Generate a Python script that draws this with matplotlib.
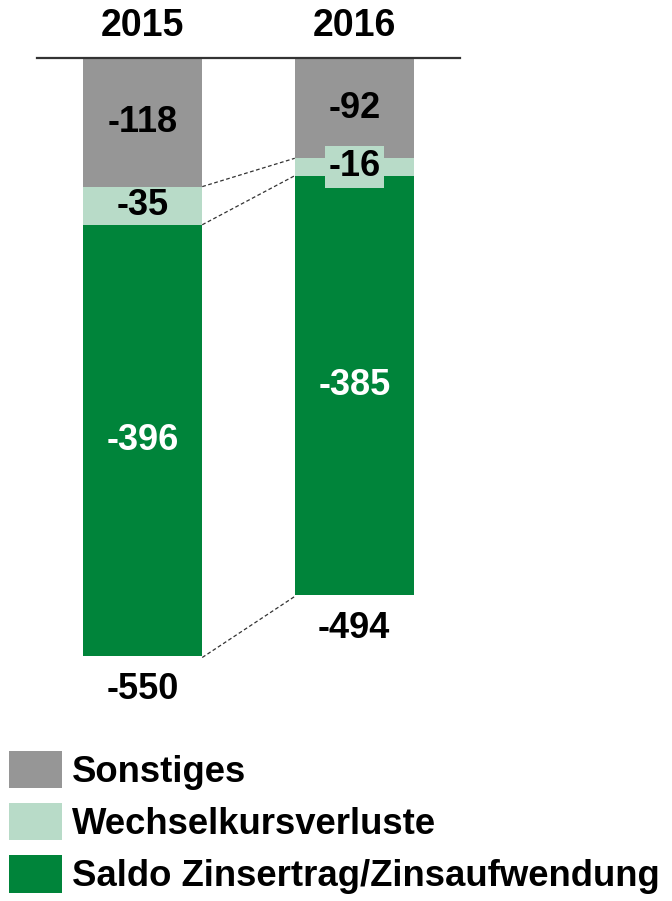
import matplotlib
matplotlib.use("Agg")
import matplotlib.pyplot as plt
from matplotlib.patches import Patch
import numpy as np

plt.rcParams['font.family'] = ['Liberation Sans', 'DejaVu Sans']
plt.rcParams['font.weight'] = 'bold'

years = ["2015", "2016"]
series = ["Sonstiges", "Wechselkursverluste", "Saldo Zinsertrag/Zinsaufwendung"]
sonstiges = [-118, -92]
wechselkurs = [-35, -16]
saldo = [-396, -385]
totals = [-550, -494]
colors = ["#969696", "#B8DBC8", "#00843A"]
label_colors = ["black", "black", "white"]

fig = plt.figure(figsize=(6.72, 9.01), dpi=100)
ax = fig.add_axes([37/672, 1-700/901, 423/672, 642/901])

x = np.arange(len(years))
width = 0.5626
values = [sonstiges, wechselkurs, saldo]
bottom = np.zeros(len(years))
bounds = []
for i, (vals, c) in enumerate(zip(values, colors)):
    vals = np.array(vals, dtype=float)
    ax.bar(x, vals, width, bottom=bottom, color=c, edgecolor='none', zorder=2)
    for j in range(len(years)):
        yc = bottom[j] + vals[j] / 2
        kw = {}
        if i == 1 and j == 1:
            kw['bbox'] = dict(boxstyle='square,pad=0.1', fc=colors[1], ec='none')
        ax.text(x[j], yc, f"{int(vals[j])}", ha='center', va='center',
                fontsize=26, fontweight='bold', color=label_colors[i], zorder=4, **kw)
    bottom = bottom + vals
    bounds.append(bottom.copy())

# connector lines
for i, b in enumerate(bounds):
    yl = b[0]
    yr = b[1]
    if i == len(bounds) - 1:
        yl, yr = totals[0], totals[1]
    ax.plot([x[0] + width/2, x[1] - width/2], [yl, yr], ls=(0, (3, 2)),
            color='#333333', lw=0.9, zorder=3)

# totals below bars
for j in range(len(years)):
    ax.annotate(f"{totals[j]}", xy=(x[j], totals[j]), xytext=(0, -23),
                textcoords='offset points', ha='center', va='center',
                fontsize=26, fontweight='bold', color='black')

# year labels above
for j in range(len(years)):
    ax.annotate(years[j], xy=(x[j], 0), xytext=(0, 23),
                textcoords='offset points', ha='center', va='center',
                fontsize=27, fontweight='bold', color='black')

ax.set_xlim(-0.5, 1.5)
ax.set_ylim(-589, 0)
for s in ['left', 'right', 'bottom']:
    ax.spines[s].set_visible(False)
ax.spines['top'].set_color('#333333')
ax.spines['top'].set_linewidth(1.6)
ax.set_xticks([])
ax.set_yticks([])

handles = [Patch(facecolor=c, edgecolor='none') for c in colors]
fig.legend(handles, series, loc='upper left', bbox_to_anchor=(0.0, 1-742/901),
           frameon=False, handlelength=1.45, handleheight=1.2,
           handletextpad=0.28, labelspacing=0.36, borderaxespad=0, borderpad=0.24,
           prop={'weight': 'bold', 'size': 26.3})

fig.savefig("out.png", dpi=100)
